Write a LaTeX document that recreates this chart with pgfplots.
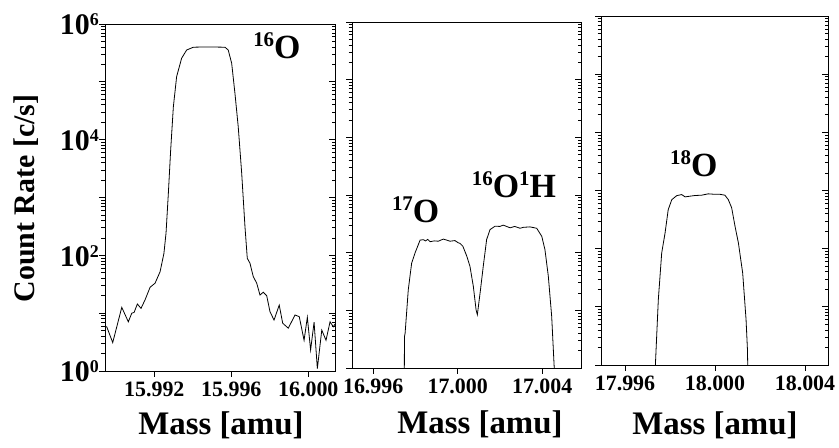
\documentclass[border=0pt]{standalone}
\usepackage{fontspec}
\setmainfont{Liberation Serif}
\usepackage{pgfplots}
\pgfplotsset{compat=1.18}

% label helpers
\newcommand{\xtl}[1]{{\fontsize{22}{22}\selectfont\bfseries #1}}
\newcommand{\ytl}[1]{{\fontsize{30}{30}\selectfont\bfseries 10\raisebox{9bp}{\fontsize{18}{18}\selectfont #1}}}
\newcommand{\iso}[2]{{\fontsize{21}{21}\selectfont\bfseries\raisebox{12bp}{#1}}{\fontsize{34}{34}\selectfont\bfseries #2}}
\newcommand{\masslabel}{{\fontsize{33}{33}\selectfont\bfseries Mass [amu]}}

\pgfplotsset{
  massaxis/.style={
    scale only axis, anchor=south west, clip mode=individual,
    ymin=1, ymax=1e6,
    axis line style={line width=0.8bp},
    tick align=outside, xtick pos=bottom, ytick pos=left,
    major tick length=6bp, minor tick length=3.5bp,
    tick style={line width=0.7bp, black},
    ytick={1,10,100,1000,10000,100000,1000000},
    minor ytick={2,3,4,5,6,7,8,9,20,30,40,50,60,70,80,90,200,300,400,500,600,700,800,900,2000,3000,4000,5000,6000,7000,8000,9000,2e4,3e4,4e4,5e4,6e4,7e4,8e4,9e4,2e5,3e5,4e5,5e5,6e5,7e5,8e5,9e5},
    xticklabel style={anchor=base, inner sep=0pt, yshift=-20bp},
    yticklabel style={anchor=base east, inner sep=0pt, yshift=-11bp},
  },
  rightaxis/.style={
    scale only axis, anchor=south west,
    ymin=1, ymax=1e6, xmin=0, xmax=1,
    axis x line=none, axis y line*=right,
    axis line style={line width=0.8bp},
    tick align=inside,
    major tick length=6bp, minor tick length=3.5bp,
    tick style={line width=0.7bp, black},
    ytick={1,10,100,1000,10000,100000,1000000},
    minor ytick={2,3,4,5,6,7,8,9,20,30,40,50,60,70,80,90,200,300,400,500,600,700,800,900,2000,3000,4000,5000,6000,7000,8000,9000,2e4,3e4,4e4,5e4,6e4,7e4,8e4,9e4,2e5,3e5,4e5,5e5,6e5,7e5,8e5,9e5},
    yticklabels={},
  },
}
\tikzset{trace/.style={black, line width=0.8bp, no marks, sharp plot}}

\begin{document}
\begin{tikzpicture}
\useasboundingbox (0bp,0bp) rectangle (839bp,448bp);

% ---- 16O (mass offset in milli-amu from 16.000)
\begin{semilogyaxis}[massaxis, at={(105bp,77bp)}, width=230bp, height=347bp,
  xmin=-10.561, xmax=1.387,
  xtick={-8,-4,0}, xticklabels={\xtl{15.992},\xtl{15.996},\xtl{16.000}},
  yticklabels={\ytl{0},,\ytl{2},,\ytl{4},,\ytl{6}}]
\addplot[trace] table {
-10.56 5.8
-10.47 5.8
-10.16 3.1
-9.69 12.6
-9.35 7.1
-9.17 10.0
-9.05 10.3
-8.88 14.4
-8.69 12.1
-8.48 17
-8.22 28
-7.96 33
-7.70 52
-7.50 108
-7.39 244
-7.27 1180
-7.15 6600
-7.01 37000
-6.84 123000
-6.58 256000
-6.32 355000
-5.97 397000
-5.50 400000
-5.00 400000
-4.33 397000
-4.16 355000
-3.98 209000
-3.81 63000
-3.64 16700
-3.46 2630
-3.29 313
-3.17 89
-3.03 73
-2.86 43
-2.68 33
-2.51 20.6
-2.34 23
-2.16 20
-1.99 10.6
-1.78 7.6
-1.51 13.8
-1.33 6.7
-1.04 5.5
-0.69 9.3
-0.47 8.7
-0.22 3.4
-0.05 8.5
0.12 2.3
0.30 7
0.47 1.1
0.70 5.1
0.92 3.4
1.13 7.1
1.30 5.8
1.39 6.5
};
\node[anchor=base west, inner sep=0pt] at (axis cs:-2.87,2.55e5) {\iso{16}{O}};
\node[rotate=90, anchor=center, inner sep=0pt] at (rel axis cs:-0.343,0.497)
  {\fontsize{30}{30}\selectfont\bfseries Count Rate [c/s]};
\node[anchor=base, inner sep=0pt] at (rel axis cs:0.504,-0.1816) {\masslabel};
\end{semilogyaxis}
\begin{semilogyaxis}[rightaxis, at={(105bp,77bp)}, width=230bp, height=347bp]
\end{semilogyaxis}

% ---- 17O and 16O1H (offset from 17.000)
\begin{semilogyaxis}[massaxis, at={(352bp,80bp)}, width=229bp, height=346bp,
  xmin=-5.004, xmax=5.837,
  xtick={-4,0,4}, xticklabels={\xtl{16.996},\xtl{17.000},\xtl{17.004}},
  yticklabels={}]
\addplot[trace] table {
-2.53 0.5
-2.52 3.5
-2.49 4
-2.34 22.7
-2.18 66
-2.02 99
-1.78 165
-1.63 168
-1.52 160
-1.42 170
-1.31 155
-1.11 160
-0.92 158
-0.68 172
-0.52 165
-0.36 158
-0.13 162
0.03 148
0.11 145
0.24 130
0.43 87
0.58 58
0.74 26
0.87 10.2
0.93 8.4
1.06 20
1.21 58
1.37 169
1.53 251
1.77 288
2.00 285
2.15 300
2.24 292
2.48 270
2.70 285
2.95 265
3.11 275
3.42 280
3.74 265
3.98 192
4.13 113
4.29 39
4.45 7.8
4.57 1
4.60 0.5
};
\node[anchor=base west, inner sep=0pt] at (axis cs:-3.12,336) {\iso{17}{O}};
\node[anchor=base west, inner sep=0pt] at (axis cs:0.66,905) {\iso{16}{O}\iso{1}{H}};
\node[anchor=base, inner sep=0pt] at (rel axis cs:0.559,-0.188) {\masslabel};
\end{semilogyaxis}
\begin{semilogyaxis}[rightaxis, at={(352bp,80bp)}, width=229bp, height=346bp]
\end{semilogyaxis}

% ---- 18O (offset from 18.000)
\begin{semilogyaxis}[massaxis, at={(601bp,83bp)}, width=227bp, height=349bp,
  xmin=-5.067, xmax=5.022,
  xtick={-4,0,4}, xticklabels={\xtl{17.996},\xtl{18.000},\xtl{18.004}},
  yticklabels={}]
\addplot[trace] table {
-2.67 0.5
-2.65 1
-2.52 13.2
-2.37 84
-2.22 186
-2.08 468
-1.92 697
-1.70 816
-1.48 851
-1.33 777
-1.10 800
-0.89 820
-0.60 830
-0.30 876
0.00 860
0.22 860
0.44 830
0.59 697
0.74 504
0.89 242
1.04 125
1.23 38
1.38 6
1.44 1.9
1.47 0.5
};
\node[anchor=base west, inner sep=0pt] at (axis cs:-2.0,1742) {\iso{18}{O}};
\node[anchor=base, inner sep=0pt] at (rel axis cs:0.502,-0.198) {\masslabel};
\end{semilogyaxis}
\begin{semilogyaxis}[rightaxis, at={(601bp,83bp)}, width=227bp, height=349bp]
\end{semilogyaxis}
\end{tikzpicture}
\end{document}
